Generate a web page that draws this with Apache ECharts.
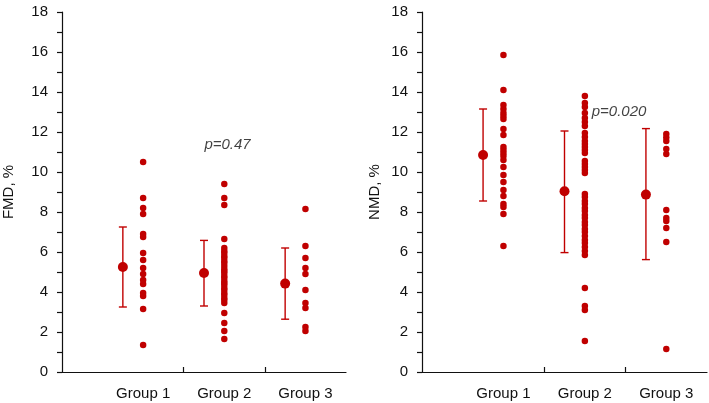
<!DOCTYPE html>
<html><head><meta charset="utf-8">
<script src="https://cdn.jsdelivr.net/npm/echarts@6/dist/echarts.min.js"></script>
<style>html,body{margin:0;padding:0;background:#fff}#c{width:709px;height:403px}</style>
</head><body><div id="c"></div>
<script>
const categories = ['Group 1', 'Group 2', 'Group 3'];
const yLabelValues = [0, 2, 4, 6, 8, 10, 12, 14, 16, 18];
const yTickValues = [0,1,2,3,4,5,6,7,8,9,10,11,12,13,14,15,16,17,18];

// FMD panel
const fmdG1 = [10.5, 8.7, 8.2, 7.9, 6.9, 6.75, 5.95, 5.6, 5.2, 4.9, 4.6, 4.4, 3.95, 3.8, 3.15, 1.35];
const fmdG2 = [9.4, 8.7, 8.35, 6.65, 6.2, 6.05, 5.95, 5.8, 5.7, 5.55, 5.45, 5.3, 5.15, 5.05, 4.95, 4.8, 4.7, 4.55, 4.45, 4.35, 4.2, 4.1, 3.95, 3.85, 3.7, 3.6, 3.45, 2.95, 2.45, 2.05, 1.65];
const fmdG3 = [8.15, 6.3, 5.7, 5.2, 4.9, 4.1, 3.45, 3.2, 2.25, 2.05];
const fmdMean = [5.25, 4.95, 4.42];
const fmdLow = [3.25, 3.30, 2.64];
const fmdHigh = [7.25, 6.58, 6.20];

// NMD panel
const nmdG1 = [15.85, 14.1, 13.35, 13.15, 12.95, 12.8, 12.65, 12.15, 11.85, 11.25, 11.1, 10.95, 10.8, 10.6, 10.25, 9.85, 9.5, 9.1, 8.8, 8.4, 8.25, 7.9, 6.3];
const nmdG2 = [13.8, 13.45, 13.25, 12.95, 12.7, 12.5, 12.3, 11.95, 11.75, 11.55, 11.4, 11.25, 11.1, 10.95, 10.55, 10.4, 10.25, 10.1, 9.95,
               8.9, 8.75, 8.55, 8.4, 8.2, 8.05, 7.85, 7.7, 7.5, 7.35, 7.15, 7.0, 6.8, 6.6, 6.45, 6.25, 6.05, 5.85, 4.2, 3.3, 3.1, 1.55];
const nmdG3 = [11.9, 11.72, 11.55, 11.15, 10.9, 8.1, 7.7, 7.55, 7.2, 6.5, 1.15];
const nmdMean = [10.85, 9.04, 8.87];
const nmdLow = [8.55, 5.97, 5.62];
const nmdHigh = [13.15, 12.05, 12.17];

const pTexts = ['p=0.47', 'p=0.020'];
const pPos = [[2.04, 11.35], [2.42, 13.0]];
const yNames = ['FMD, %', 'NMD, %'];

const RED = '#c00000';
const FONT = 'Liberation Sans, Arial, sans-serif';
const ERR_OFFSET = -0.25;

const chart = echarts.init(document.getElementById('c'), null, {renderer: 'canvas'});

function dots(groups) {
  const out = [];
  groups.forEach((g, i) => g.forEach(v => out.push([i + 1, v])));
  return out;
}
function errRender(params, api) {
  const x = api.value(0), lo = api.value(1), hi = api.value(2);
  const a = api.coord([x, lo]), b = api.coord([x, hi]);
  const cap = 4;
  const st = {stroke: RED, lineWidth: 1.4};
  return {type: 'group', children: [
    {type: 'line', shape: {x1: a[0], y1: a[1], x2: b[0], y2: b[1]}, style: st},
    {type: 'line', shape: {x1: a[0] - cap, y1: a[1], x2: a[0] + cap, y2: a[1]}, style: st},
    {type: 'line', shape: {x1: b[0] - cap, y1: b[1], x2: b[0] + cap, y2: b[1]}, style: st}
  ]};
}

const grids = [
  {left: 62, top: 12, width: 284, height: 360},
  {left: 422, top: 12, width: 285, height: 360}
];
const xAxes = [0, 1].map(i => ({
  type: 'value', gridIndex: i, min: 0, max: 3.5,
  axisLine: {show: true, lineStyle: {color: '#111', width: 1.2}},
  axisTick: {show: true, inside: true, length: 5, customValues: [1.5, 2.5], lineStyle: {color: '#111', width: 1.2}},
  axisLabel: {show: true, customValues: [1, 2, 3], formatter: v => categories[Math.round(v) - 1] || '',
    fontSize: 15, color: '#111', fontFamily: FONT, margin: 14},
  splitLine: {show: false}
}));
const yAxes = [0, 1].map(i => ({
  type: 'value', gridIndex: i, min: 0, max: 18, interval: 1,
  name: yNames[i], nameLocation: 'middle', nameGap: i === 0 ? 46 : 40,
  nameTextStyle: {fontSize: 15, color: '#111', fontFamily: FONT},
  axisLine: {show: true, lineStyle: {color: '#111', width: 1.2}},
  axisTick: {show: true, inside: false, length: 5, customValues: yTickValues, lineStyle: {color: '#111', width: 1.2}},
  axisLabel: {show: true, customValues: yLabelValues, formatter: v => (v % 2 === 0 ? String(v) : ''),
    fontSize: 15, color: '#111', fontFamily: FONT, margin: 14},
  splitLine: {show: false}
}));

function panelSeries(i, groups, mean, low, high) {
  return [
    {type: 'scatter', xAxisIndex: i, yAxisIndex: i, data: dots(groups), symbolSize: 6.5,
     itemStyle: {color: RED, opacity: 1}, silent: true},
    {type: 'custom', xAxisIndex: i, yAxisIndex: i, renderItem: errRender,
     encode: {x: 0, y: [1, 2]},
     data: low.map((l, k) => [k + 1 + ERR_OFFSET, l, high[k]])},
    {type: 'scatter', xAxisIndex: i, yAxisIndex: i, symbolSize: 10, itemStyle: {color: RED, opacity: 1}, z: 5,
     data: mean.map((m, k) => [k + 1 + ERR_OFFSET, m])},
    {type: 'scatter', xAxisIndex: i, yAxisIndex: i, symbolSize: 0, silent: true,
     data: [pPos[i]],
     label: {show: true, position: 'inside', formatter: pTexts[i], fontSize: 15, fontStyle: 'italic',
       color: '#111', fontFamily: FONT}}
  ];
}

chart.setOption({
  animation: false,
  backgroundColor: '#fff',
  grid: grids,
  xAxis: xAxes,
  yAxis: yAxes,
  series: [].concat(
    panelSeries(0, [fmdG1, fmdG2, fmdG3], fmdMean, fmdLow, fmdHigh),
    panelSeries(1, [nmdG1, nmdG2, nmdG3], nmdMean, nmdLow, nmdHigh)
  )
});
</script></body></html>
